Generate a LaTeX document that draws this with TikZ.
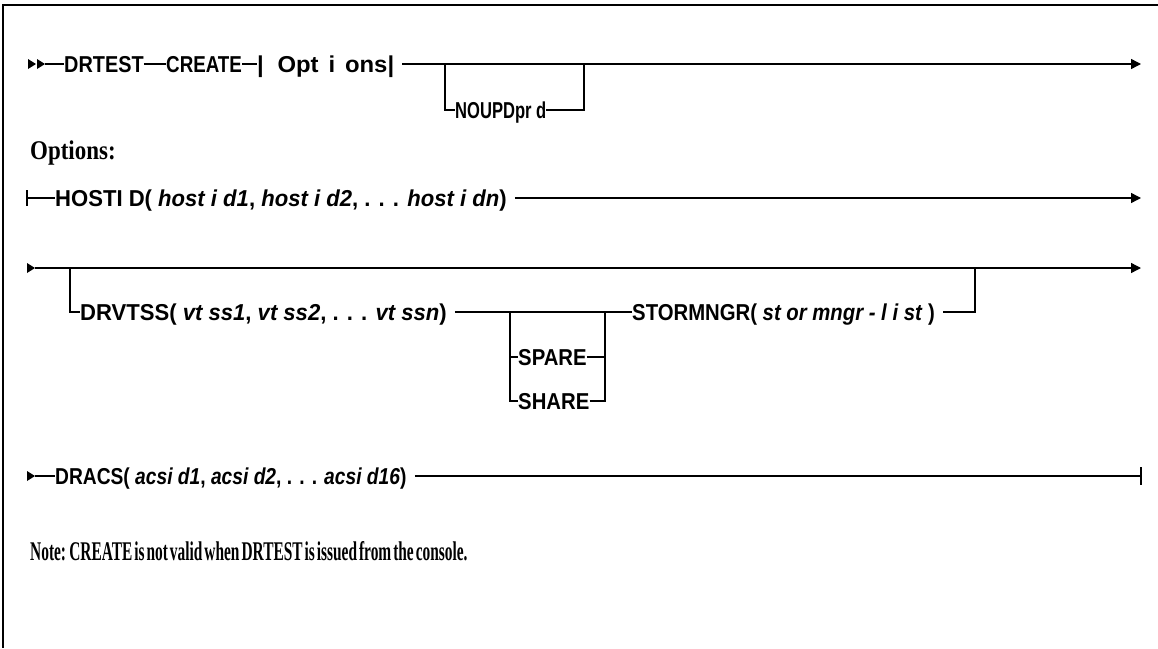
\documentclass[tikz,border=0pt]{standalone}
\usepackage{fontspec}
\usepackage{graphicx}
\setmainfont{Liberation Sans}
\newfontfamily\diagfont[FakeStretch=0.96]{Liberation Sans}
\newfontfamily\notefont[FakeStretch=0.85]{Liberation Serif}
\newfontfamily\notenarrow[FakeStretch=0.57]{Liberation Serif}
\usetikzlibrary{arrows.meta}
\newcommand{\sqx}[2]{\scalebox{#1}[1]{#2}}
\begin{document}
\begin{tikzpicture}[x=1pt,y=-1pt,
  rail/.style={line width=1.4pt},
  frame/.style={line width=2pt},
  endarrow/.style={-{Triangle[length=10pt,width=10pt]}},
  kw/.style={font=\diagfont\bfseries\fontsize{23}{23}\selectfont, inner sep=0pt, anchor=west, text height=16.5pt, text depth=0pt},
  note/.style={font=\notefont\bfseries\fontsize{27}{27}\selectfont, inner sep=0pt, anchor=base west},
  notew/.style={font=\notenarrow\bfseries\fontsize{27}{27}\selectfont, inner sep=0pt, anchor=base west},
  tip/.style={fill=black}
]
\useasboundingbox (0,0) rectangle (1158,648);
\draw[frame] (1158,5) -- (3,5) -- (3,648);

% ---------- row 1 ----------
\fill[tip] (28,59) -- (36,64) -- (28,69) -- cycle;
\fill[tip] (37,59) -- (45,64) -- (37,69) -- cycle;
\coordinate (r1s) at (45,64);
\node[kw] (drtest) at (64,64) {\sqx{0.9}{DRTEST}};
\node[kw] (create) at (166,64) {\sqx{0.85}{CREATE}};
\node[kw] (opts) at (257,64) {\sqx{1.08}{|\hspace{0.55em}Opt\hspace{0.4em}i\hspace{0.4em}ons|}};
\coordinate (b1) at (445,64);
\node[kw] (noupd) at (455,110) {\sqx{0.75}{NOUPDpr d}};
\coordinate (j1) at (584,64);
\coordinate (e1) at (1141,64);
\draw[rail] (r1s) -- (drtest.west);
\draw[rail] (drtest.east) -- (create.west);
\draw[rail] (create.east) -- (opts.west);
\draw[rail,endarrow] ([xshift=8pt]opts.east) -- (e1);
\draw[rail] (b1) |- (noupd.west);
\draw[rail] (noupd.east) -| (j1);

% ---------- Options ----------
\node[note] (optlab) at (30,159) {Options:};

% ---------- HOSTID row ----------
\coordinate (h0) at (27,198);
\draw[rail] (27,190) -- (27,206);
\node[kw] (hostid) at (55,198) {HOSTI D( \textit{host i d1}, \textit{host i d2}, . . . \textit{host i dn})};
\coordinate (e2) at (1141,198);
\draw[rail] (h0) -- (hostid.west);
\draw[rail,endarrow] ([xshift=8pt]hostid.east) -- (e2);

% ---------- row 3 ----------
\fill[tip] (27,263) -- (35,268) -- (27,273) -- cycle;
\coordinate (r3s) at (35,268);
\coordinate (e3) at (1141,268);
\draw[rail,endarrow] (r3s) -- (e3);
\coordinate (b3) at (70,268);
\node[kw] (drvtss) at (80,312) {DRVTSS( \textit{vt ss1}, \textit{vt ss2}, . . . \textit{vt ssn})};
\coordinate (b4) at (510,312);
\node[kw] (spare) at (518,357) {\sqx{0.92}{SPARE}};
\node[kw] (share) at (518,401) {\sqx{0.92}{SHARE}};
\coordinate (j4) at (605,312);
\node[kw] (storm) at (632,312) {\sqx{0.92}{STORMNGR( \textit{st or mngr - l i st} )}};
\coordinate (j3) at (975,268);
\draw[rail] (b3) |- (drvtss.west);
\draw[rail] ([xshift=8pt]drvtss.east) -- (storm.west);
\draw[rail] (b4) |- (spare.west);
\draw[rail] (b4) |- (share.west);
\draw[rail] (spare.east) -| (j4);
\draw[rail] (share.east) -| (j4);
\draw[rail] ([xshift=8pt]storm.east) -| (j3);

% ---------- DRACS row ----------
\fill[tip] (27,471) -- (35,476) -- (27,481) -- cycle;
\coordinate (r5s) at (35,476);
\node[kw] (dracs) at (55,476) {\sqx{0.87}{DRACS( \textit{acsi d1}, \textit{acsi d2}, . . . \textit{acsi d16})}};
\coordinate (e5) at (1141,476);
\draw[rail] (r5s) -- (dracs.west);
\draw[rail] ([xshift=8pt]dracs.east) -- (e5);
\draw[rail] (1141,467) -- (1141,485);

% ---------- Note ----------
\node[notew] (notelab) at (30,560) {\spaceskip=2pt Note: CREATE is not valid when DRTEST is issued from the console.};
\end{tikzpicture}
\end{document}
